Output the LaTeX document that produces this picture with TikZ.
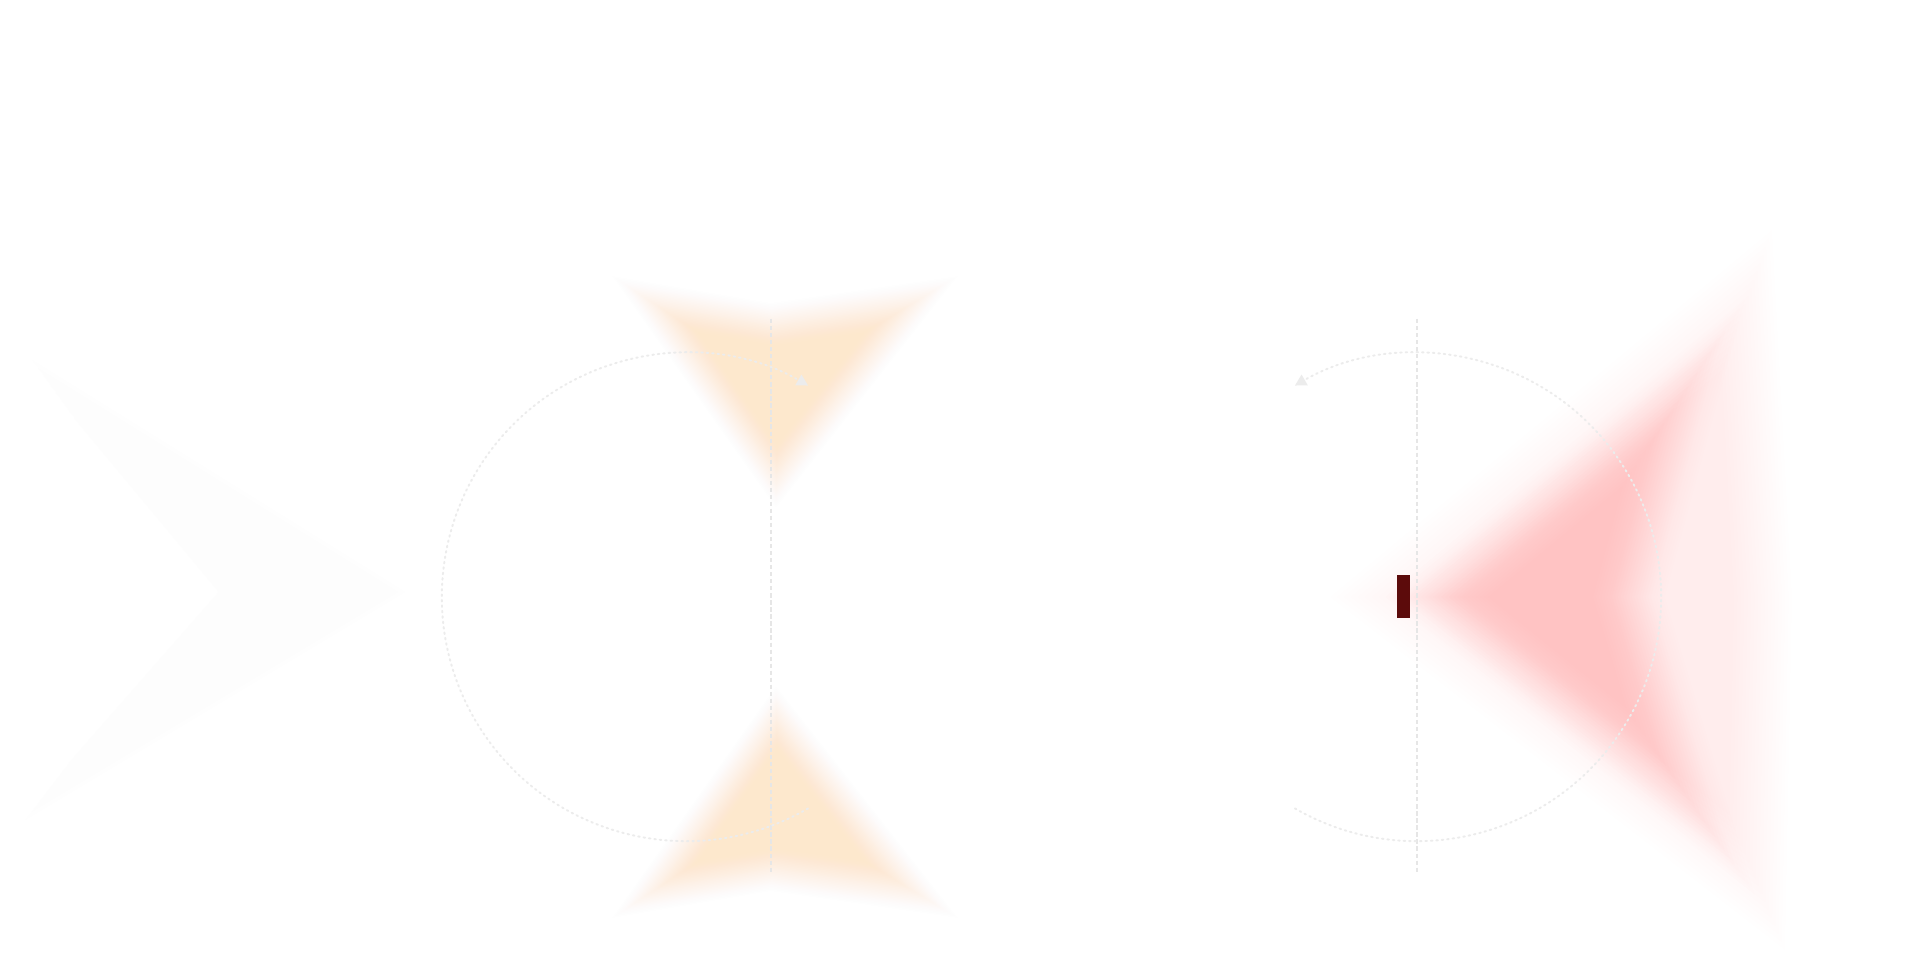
\documentclass[tikz,border=0pt]{standalone}
\usetikzlibrary{arrows.meta}
\definecolor{orangesoft}{HTML}{FDE8CD}
\definecolor{redsoft}{HTML}{FFC3C3}
\definecolor{redpale}{HTML}{FFEDED}
\definecolor{greyfaint}{HTML}{FDFDFD}
\definecolor{guide}{HTML}{ECECEC}
\definecolor{guidev}{HTML}{E6E6E6}
\definecolor{darkmark}{HTML}{5C0B0B}
% soft polygon: nested copies scaled towards (cx,cy), with a smooth opacity ramp
% #1 colour, #2 cx, #3 cy, #4 smallest scale, #5 steps, #6 path
\newcommand{\softpoly}[6]{%
  \foreach \k in {1,...,#5}{%
    \pgfmathsetmacro{\sc}{1-(1-#4)*(\k-1)/(#5-1)}%
    \pgfmathsetmacro{\ta}{(\k-1)/#5}%
    \pgfmathsetmacro{\tb}{\k/#5}%
    \pgfmathsetmacro{\Aa}{\ta*\ta*(3-2*\ta)}%
    \pgfmathsetmacro{\Ab}{\tb*\tb*(3-2*\tb)}%
    \pgfmathsetmacro{\op}{min(1,(\Ab-\Aa)/(1-\Aa))}%
    \fill[#1, fill opacity=\op, shift={(#2,#3)}, scale=\sc, shift={(-#2,-#3)}] #6;
  }%
}
\tikzset{
  ring/.style={draw=guide, line width=0.55pt, dash pattern=on 0.45pt off 1.1pt, line cap=round,
    -{Triangle[length=3.2pt,width=3.4pt,fill=guide]}},
  guideline/.style={draw=guidev, line width=0.5pt, dash pattern=on 1.2pt off 0.8pt},
}
\begin{document}
\begin{tikzpicture}[x=0.01cm,y=0.01cm]
\fill[white] (0,0) rectangle (1920,960);
\useasboundingbox (0,0) rectangle (1920,960);
% faint grey chevron at left
\softpoly{greyfaint}{200}{368}{0.75}{8}{(32,600) -- (405,368) -- (25,140) -- (225,368) -- cycle}
% orange shapes
\softpoly{orangesoft}{778}{575}{0.4}{32}{(612,684) -- (771,657) -- (958,684) -- (776,452) -- cycle}
\softpoly{orangesoft}{778}{151}{0.4}{32}{(612,42) -- (771,69) -- (958,42) -- (776,274) -- cycle}
% red chevron
\softpoly{redpale}{1640}{363}{0.3}{32}{(1330,363) -- (1772,730) -- (1792,363) -- (1785,10) -- cycle}
\softpoly{redsoft}{1550}{363}{0.25}{32}{(1385,363) -- (1745,660) -- (1665,363) -- (1755,65) -- cycle}
% guides
\coordinate (cL) at (686,363);
\coordinate (cR) at (1417,363);
\coordinate (lt) at (771,641);
\coordinate (lb) at (771,87);
\coordinate (rt) at (1417,641);
\coordinate (rb) at (1417,87);
\draw[guideline] (lt) -- (lb);
\draw[guideline] (rt) -- (rb);
\draw[ring] ([shift={(-60:2.44cm)}]cL) arc[start angle=-60, end angle=-300, radius=2.44cm];
\draw[ring] ([shift={(240:2.44cm)}]cR) arc[start angle=240, end angle=480, radius=2.44cm];
% dark marker
\node[fill=darkmark, inner sep=0pt, minimum width=0.13cm, minimum height=0.43cm] (mark) at (1403.5,363.5) {};
\end{tikzpicture}
\end{document}
